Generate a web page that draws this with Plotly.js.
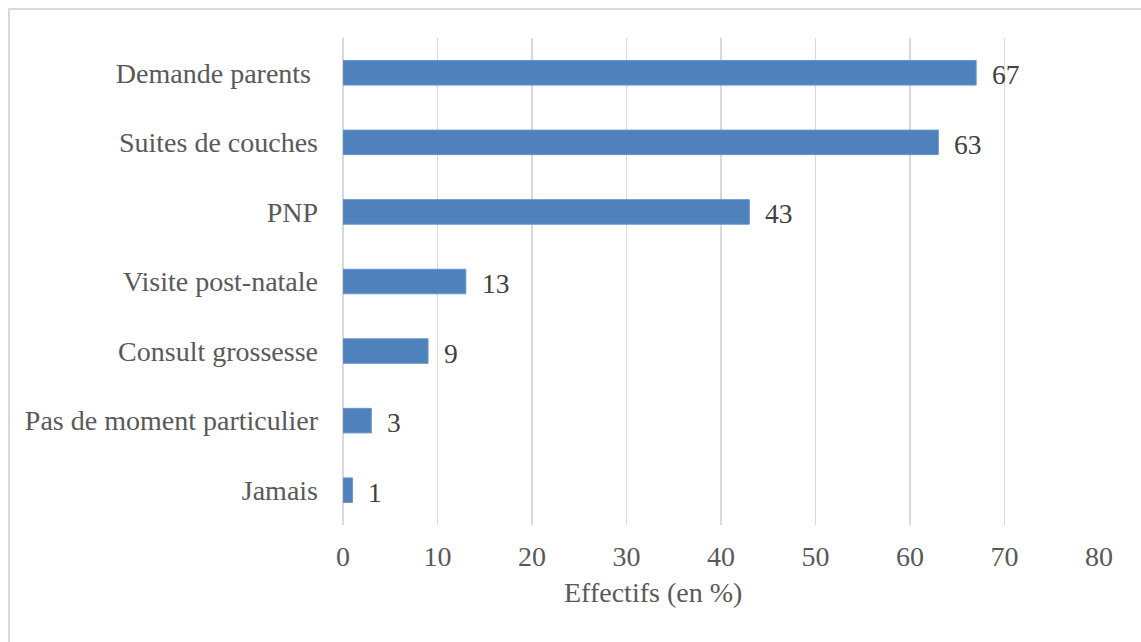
<!DOCTYPE html>
<html>
<head>
<meta charset="utf-8">
<script src="https://cdn.plot.ly/plotly-3.0.1.min.js"></script>
<style>
  html, body { margin: 0; padding: 0; background: #fff; overflow: hidden; }
  #chart { width: 1141px; height: 642px; }
  #frame { position: absolute; left: 8px; top: 8px; width: 1300px; height: 800px;
           border: 2px solid #d9d9d9; pointer-events: none; }
</style>
</head>
<body>
<div id="chart"></div>
<div id="frame"></div>
<script>
const categories = ["Jamais", "Pas de moment particulier", "Consult grossesse", "Visite post-natale", "PNP", "Suites de couches", "Demande parents\u00a0"];
const values = [1, 3, 9, 13, 43, 63, 67];
const xTicks = [0, 10, 20, 30, 40, 50, 60, 70, 80];
const xTitle = "Effectifs (en %)";

const FONT = "'Liberation Serif', 'Times New Roman', serif";

const trace = {
  type: "bar",
  orientation: "h",
  x: values,
  y: categories,
  marker: { color: "#4f81bd", line: { color: "#6a96cc", width: 1 } },
  hoverinfo: "skip"
};

const annotations = values.map((v, i) => ({
  x: v, y: categories[i], xref: "x", yref: "y",
  text: String(v), showarrow: false, xanchor: "left", yanchor: "middle",
  xshift: 14, yshift: -2,
  font: { family: FONT, size: 27.5, color: "#404040" }
}));
annotations.push({
  x: 0.4094, y: 0, xref: "paper", yref: "paper",
  xanchor: "center", yanchor: "middle", yshift: -67,
  text: xTitle, showarrow: false,
  font: { family: FONT, size: 28, color: "#595959" }
});

const layout = {
  width: 1141, height: 642,
  margin: { l: 343, r: 42, t: 38, b: 117 },
  paper_bgcolor: "#fff", plot_bgcolor: "#fff",
  bargap: 0.647,
  showlegend: false,
  font: { family: FONT, size: 28, color: "#595959" },
  xaxis: {
    range: [0, 80], tickvals: xTicks, ticktext: xTicks.map(String),
    showgrid: true, gridcolor: "#d9d9d9", gridwidth: 1.5,
    zeroline: true, zerolinecolor: "#d9d9d9", zerolinewidth: 1.5,
    showline: false, ticks: "", ticklabelstandoff: 12,
    tickfont: { family: FONT, size: 28, color: "#595959" },
    fixedrange: true
  },
  yaxis: {
    type: "category", categoryorder: "array", categoryarray: categories,
    showgrid: false, zeroline: false, showline: false, ticks: "",
    ticklabelstandoff: 24,
    tickfont: { family: FONT, size: 28, color: "#595959" },
    fixedrange: true
  },
  annotations: annotations
};

Plotly.newPlot("chart", [trace], layout, { displayModeBar: false, staticPlot: true });
</script>
</body>
</html>
